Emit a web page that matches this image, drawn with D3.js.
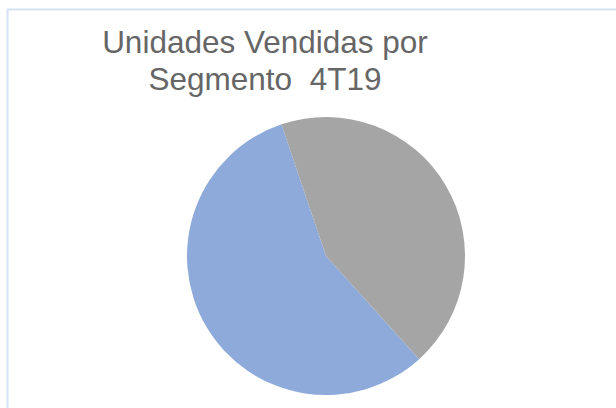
<!DOCTYPE html>
<html>
<head>
<meta charset="utf-8">
<script src="https://cdn.jsdelivr.net/npm/d3@7"></script>
<style>
  html, body { margin: 0; padding: 0; background: #fff; }
  svg { display: block; }
  text { white-space: pre; }
</style>
</head>
<body>
<svg id="chart" width="616" height="408"></svg>
<script>
const titleLines = ["Unidades Vendidas por", "Segmento  4T19"];
const categories = ["Segmento 1", "Segmento 2"];
const values = [56.5, 43.5];
const colors = ["#8eaadb", "#a5a5a5"];

const svg = d3.select("#chart");
const W = 616, H = 408;

// chart area border (light blue)
svg.append("rect")
  .attr("x", 7.5).attr("y", 9.5)
  .attr("width", W + 20).attr("height", H + 20)
  .attr("fill", "#fff")
  .attr("stroke", "#d5e2f3")
  .attr("stroke-width", 2);

// title
const title = svg.append("text")
  .attr("text-anchor", "middle")
  .attr("xml:space", "preserve")
  .attr("font-family", "'Liberation Sans', Arial, sans-serif")
  .attr("font-size", 31.5)
  .attr("font-weight", 300)
  .attr("fill", "#666666");
titleLines.forEach((t, i) => {
  title.append("tspan").attr("x", 265).attr("y", 53 + i * 36.5).text(t);
});

// pie
const cx = 326, cy = 256, r = 139;
const data = categories.map((c, i) => ({ category: c, value: values[i] }));
const startDeg = 137.9;
const pie = d3.pie()
  .value(d => d.value)
  .sort(null)
  .startAngle(startDeg * Math.PI / 180)
  .endAngle((startDeg + 360) * Math.PI / 180);
const arc = d3.arc().innerRadius(0).outerRadius(r);
const color = d3.scaleOrdinal().domain(categories).range(colors);

svg.append("g")
  .attr("transform", `translate(${cx},${cy})`)
  .selectAll("path")
  .data(pie(data))
  .join("path")
  .attr("d", arc)
  .attr("fill", d => color(d.data.category));
</script>
</body>
</html>
